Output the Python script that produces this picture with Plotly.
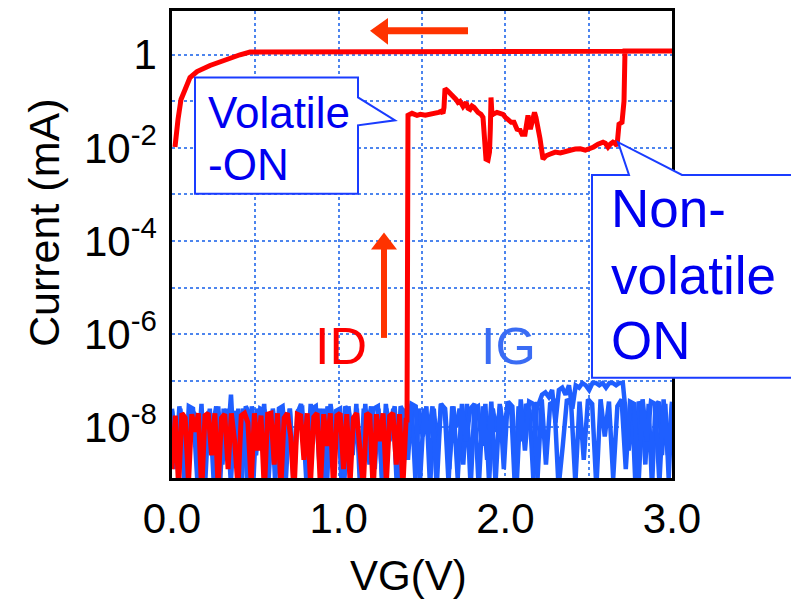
import numpy as np
import plotly.graph_objects as go

# ---------------- data (log10 of current in mA) ----------------
# ID forward sweep, off-state noise from 0.0 V to 1.405 V
id_noise_v = (0.0, 1.405)
id_noise_log = [-8.9, -7.75, -9.3, -7.7, -7.8, -9.2, -7.72, -8.1, -7.7, -9.4,
                -7.75, -7.7, -8.6, -7.7, -9.3, -7.8, -7.72, -8.9, -7.7, -8.3,
                -9.3, -7.75, -7.7, -7.9, -9.2, -7.7, -8.5, -7.75, -9.4, -7.72,
                -7.7, -8.8, -7.7, -9.3, -7.8, -7.7, -8.2, -9.4, -7.72, -7.75,
                -8.7, -7.7, -9.2, -7.78, -7.7, -9.3, -7.72, -8.4, -7.7, -9.4,
                -7.75, -7.7, -8.9, -7.72, -9.2, -7.8, -7.7, -8.6, -9.3, -7.7,
                -7.75, -9.4, -7.72, -8.3, -7.7, -9.2, -7.76, -7.7, -8.8, -7.72,
                -9.3, -7.8]

# ID forward sweep after turn-on (VG, log10 I)
id_on_v = [1.410, 1.416, 1.44, 1.47, 1.49, 1.52, 1.548, 1.58, 1.60, 1.615,
           1.626, 1.632, 1.638, 1.652, 1.68, 1.69, 1.704, 1.716, 1.728, 1.746,
           1.764, 1.776, 1.788, 1.80, 1.812, 1.836, 1.854, 1.866, 1.872, 1.878,
           1.884, 1.896, 1.905, 1.91, 1.914, 1.92, 1.926, 1.95, 1.986, 2.0,
           2.016, 2.035, 2.052, 2.07, 2.088, 2.10, 2.118, 2.13, 2.136, 2.15,
           2.166, 2.175, 2.184, 2.20, 2.208, 2.226, 2.244, 2.27, 2.30, 2.33,
           2.36, 2.39, 2.42, 2.45, 2.48, 2.508, 2.53, 2.556, 2.586, 2.60,
           2.616, 2.63, 2.646, 2.66, 2.67, 2.682, 2.70, 2.712, 2.718, 3.0]
id_on_log = [-7.9, -1.30, -1.258, -1.30, -1.279, -1.30, -1.279, -1.279, -1.237, -1.215,
             -1.258, -1.13, -0.725, -0.768, -0.853, -0.917, -0.96, -1.023, -1.0, -1.109,
             -1.023, -1.15, -1.173, -1.10, -1.13, -1.237, -1.279, -1.343, -1.80, -2.0,
             -2.239, -2.26, -2.09, -1.6, -0.917, -1.30, -1.279, -1.237, -1.279, -1.343,
             -1.407, -1.45, -1.45, -1.60, -1.62, -1.706, -1.706, -1.45, -1.30, -1.6,
             -1.30, -1.237, -1.35, -1.60, -1.8, -2.239, -2.17, -2.132, -2.09, -2.11,
             -2.07, -2.05, -2.026, -2.02, -2.05, -2.026, -1.98, -1.919, -1.876, -1.90,
             -1.983, -1.92, -1.876, -1.90, -1.96, -1.493, -1.45, -1.0, 0.08, 0.08]

# ID reverse sweep (3.0 V -> 0 V)
id_rev_v = [0.51, 0.468, 0.408, 0.318, 0.228, 0.15, 0.108, 0.078, 0.054, 0.036, 0.018]
id_rev_log = [0.085, 0.06, 0.0, -0.11, -0.23, -0.36, -0.49, -0.75, -0.96, -1.39, -1.98]

# IG forward sweep
ig_fwd_noise_v = (0.0, 2.19)
ig_fwd_noise_log = [-7.6, -8.9, -7.55, -8.2, -9.3, -7.6, -7.7, -8.7, -7.5, -9.2,
                    -7.65, -8.0, -7.55, -9.3, -7.6, -8.4, -7.3, -8.8, -7.6, -9.1,
                    -7.55, -7.7, -9.3, -7.6, -8.2, -7.5, -8.9, -7.65, -9.2, -7.6,
                    -7.55, -8.5, -7.6, -9.3, -7.7, -7.5, -8.3, -9.1, -7.6, -7.55,
                    -8.8, -7.6, -9.3, -7.5, -8.1, -7.65, -9.2, -7.55, -7.7, -8.6,
                    -7.5, -9.3, -7.6, -8.0, -7.55, -8.9, -7.6, -9.2, -7.5, -8.3,
                    -7.6, -9.3, -7.55, -7.7, -8.7, -7.5, -9.1, -7.6, -8.2, -7.55,
                    -9.3, -7.6, -8.5, -7.5, -7.65, -9.2, -7.55, -8.0, -7.6, -8.8,
                    -7.5, -9.3, -7.6, -7.55, -8.4, -7.5, -9.2, -7.6, -8.1, -7.55,
                    -8.9, -7.5, -7.6, -9.3, -7.55, -8.3, -7.5, -7.65, -9.1, -7.5]
ig_fwd_band_v = (2.20, 2.705)
ig_fwd_band_log = [-7.5, -7.3, -7.25, -7.35, -7.2, -7.9, -7.2, -7.15, -7.3, -7.1,
                   -7.6, -7.1, -7.15, -7.05, -7.1, -7.2, -7.05, -7.05, -7.1, -7.05,
                   -7.15, -7.05, -7.05, -7.1, -7.05, -7.05]
ig_fwd_tail_v = (2.72, 3.0)
ig_fwd_tail_log = [-7.6, -8.5, -7.5, -9.2, -7.45, -7.6, -8.8, -7.5, -9.3, -7.55,
                   -7.45, -8.6, -7.5, -9.1, -7.5]

# IG reverse sweep (3.0 V -> 0 V)
ig_rev_v = (3.0, 0.0)
ig_rev_log = [-7.45, -8.6, -7.4, -9.2, -7.5, -7.45, -8.3, -7.4, -9.3, -7.5,
              -7.45, -8.9, -7.4, -7.55, -9.1, -7.45, -8.2, -7.4, -9.3, -7.5,
              -7.4, -8.7, -7.45, -9.2, -7.5, -7.4, -8.4, -9.3, -7.45, -7.5,
              -8.8, -7.4, -9.1, -7.5, -7.45, -8.5, -7.4, -9.3, -7.55, -7.45,
              -8.1, -7.5, -9.2, -7.45, -8.7, -7.55, -9.3, -7.5, -7.6, -8.3,
              -7.5, -9.1, -7.55, -8.9, -7.6, -7.5, -9.3, -7.55, -8.2, -7.6,
              -9.2, -7.55, -7.5, -8.6, -7.6, -9.3, -7.55, -8.0, -7.6, -9.1,
              -7.55, -7.6, -8.8, -7.5, -9.3, -7.6, -8.4, -7.55, -9.2, -7.6,
              -7.65, -8.7, -7.55, -9.3, -7.6, -8.1, -7.5, -9.2, -7.6, -7.65,
              -8.9, -7.6, -9.3, -7.55, -8.3, -7.6, -9.1, -7.65, -7.6, -8.6,
              -7.55, -9.3, -7.6, -8.0, -7.65, -9.2, -7.6, -8.8, -7.55, -9.3,
              -7.6, -8.4, -7.65, -9.1, -7.6, -7.55, -9.3, -7.6, -8.2, -7.65]

x_tick_vals = [0.0, 1.0, 2.0, 3.0]
x_tick_text = ["0.0", "1.0", "2.0", "3.0"]
x_minor_vals = [0.5, 1.5, 2.5]
y_tick_exp = [-8, -6, -4, -2, 0]
y_tick_text = ["10<sup>-8</sup>", "10<sup>-6</sup>", "10<sup>-4</sup>", "10<sup>-2</sup>", "1"]
y_minor_exp = [-7, -5, -3, -1]

# ---------------- build series ----------------
def seq(rng, vals):
    return list(np.linspace(rng[0], rng[1], len(vals)))

id_x = seq(id_noise_v, id_noise_log) + id_on_v + id_rev_v
id_y = [10 ** v for v in id_noise_log + id_on_log + id_rev_log]

igf_x = seq(ig_fwd_noise_v, ig_fwd_noise_log) + seq(ig_fwd_band_v, ig_fwd_band_log) + seq(ig_fwd_tail_v, ig_fwd_tail_log)
igf_y = [10 ** v for v in ig_fwd_noise_log + ig_fwd_band_log + ig_fwd_tail_log]
igr_x = seq(ig_rev_v, ig_rev_log)
igr_y = [10 ** v for v in ig_rev_log]

RED = "#ff0000"
BLUE = "#1f5fff"
ARROW = "#ff3300"
TXTBLUE = "#0000f0"
FONT = "Liberation Sans, Arial, sans-serif"

fig = go.Figure()
fig.add_trace(go.Scatter(x=igf_x, y=igf_y, mode="lines", line=dict(color=BLUE, width=4.5), showlegend=False))
fig.add_trace(go.Scatter(x=igr_x, y=igr_y, mode="lines", line=dict(color=BLUE, width=4.5), showlegend=False))
fig.add_trace(go.Scatter(x=id_x, y=id_y, mode="lines", line=dict(color=RED, width=5), showlegend=False))

# ---------------- layout geometry ----------------
W, H = 791, 606
L, R, T, B = 172, 119, 8, 128
PW, PH = W - L - R, H - T - B


def px(x):
    return (x - L) / PW


def py(y):
    return (H - B - y) / PH


def path(pts):
    return "M " + " L ".join(f"{px(a):.5f},{py(b):.5f}" for a, b in pts) + " Z"


shapes = []
# Volatile-ON callout
shapes.append(dict(type="path", xref="paper", yref="paper", layer="above",
                   path=path([(195, 75), (358, 75), (358, 95), (395, 118), (358, 123), (358, 192), (195, 192)]),
                   fillcolor="white", line=dict(color="#1a3cff", width=2)))
# Non-volatile ON callout
shapes.append(dict(type="path", xref="paper", yref="paper", layer="above",
                   path=path([(592, 173), (629, 173), (618, 140), (682, 173), (805, 173), (805, 377), (592, 377)]),
                   fillcolor="white", line=dict(color="#1a3cff", width=2)))
# left arrow (top)
shapes.append(dict(type="line", xref="paper", yref="paper", layer="above",
                   x0=px(468), x1=px(385), y0=py(28), y1=py(28), line=dict(color=ARROW, width=7)))
shapes.append(dict(type="path", xref="paper", yref="paper", layer="above",
                   path=path([(370, 28), (388, 15), (388, 42)]), fillcolor=ARROW, line=dict(width=0)))
# up arrow
shapes.append(dict(type="line", xref="paper", yref="paper", layer="above",
                   x0=px(384), x1=px(384), y0=py(337), y1=py(245), line=dict(color=ARROW, width=6)))
shapes.append(dict(type="path", xref="paper", yref="paper", layer="above",
                   path=path([(384, 231), (371, 248), (397, 248)]), fillcolor=ARROW, line=dict(width=0)))

annotations = []


def txt(x, y, s, size, color, xanchor="left", angle=0):
    annotations.append(dict(x=px(x), y=py(y), xref="paper", yref="paper", text=s, showarrow=False,
                            xanchor=xanchor, yanchor="middle", textangle=angle,
                            font=dict(family=FONT, size=size, color=color)))


fs_v = 44
txt(206, 125 - 0.34 * fs_v, "Volatile", fs_v, TXTBLUE)
txt(206, 177 - 0.34 * fs_v, "-ON", fs_v, TXTBLUE)
fs_n = 53
txt(609, 225 - 0.34 * fs_n, "Non-", fs_n, TXTBLUE)
txt(609, 292 - 0.34 * fs_n, "volatile", fs_n, TXTBLUE)
txt(609, 358 - 0.34 * fs_n, "ON", fs_n, TXTBLUE)
fs_i = 52
txt(341, 363 - 0.34 * fs_i, "ID", fs_i, RED, xanchor="center")
txt(508, 363 - 0.34 * fs_i, "IG", fs_i, "#3a6cf4", xanchor="center")
# axis titles
txt(408, 590 - 0.34 * 42, "VG(V)", 42, "black", xanchor="center")
txt(58 - 0.34 * 43, 221, "Current (mA)", 43, "black", xanchor="center", angle=-90)

fig.update_layout(
    width=W, height=H,
    margin=dict(l=L, r=R, t=T, b=B, pad=0),
    paper_bgcolor="white", plot_bgcolor="white",
    font=dict(family=FONT, size=42, color="black"),
    shapes=shapes, annotations=annotations,
    showlegend=False,
)
gridstyle = dict(gridcolor="#4d85ee", gridwidth=2, griddash="dot")
common = dict(showgrid=True, showline=True, linecolor="black", linewidth=2.5, mirror=True,
              ticks="", zeroline=False, **gridstyle)
fig.update_xaxes(range=[0, 3.0], tickmode="array", tickvals=x_tick_vals, ticktext=x_tick_text,
                 minor=dict(tickmode="array", tickvals=x_minor_vals, showgrid=True, ticks="", **gridstyle),
                 tickfont=dict(size=42, family=FONT, color="black"), ticklabelstandoff=2, **common)
fig.update_yaxes(type="log", range=[-9.09, 0.94], tickmode="array",
                 tickvals=[10.0 ** e for e in y_tick_exp], ticktext=y_tick_text,
                 minor=dict(tickmode="array", tickvals=[10.0 ** e for e in y_minor_exp], showgrid=True,
                            ticks="", **gridstyle),
                 tickfont=dict(size=42, family=FONT, color="black"), ticklabelstandoff=4, **common)

fig.write_html("out.html")
